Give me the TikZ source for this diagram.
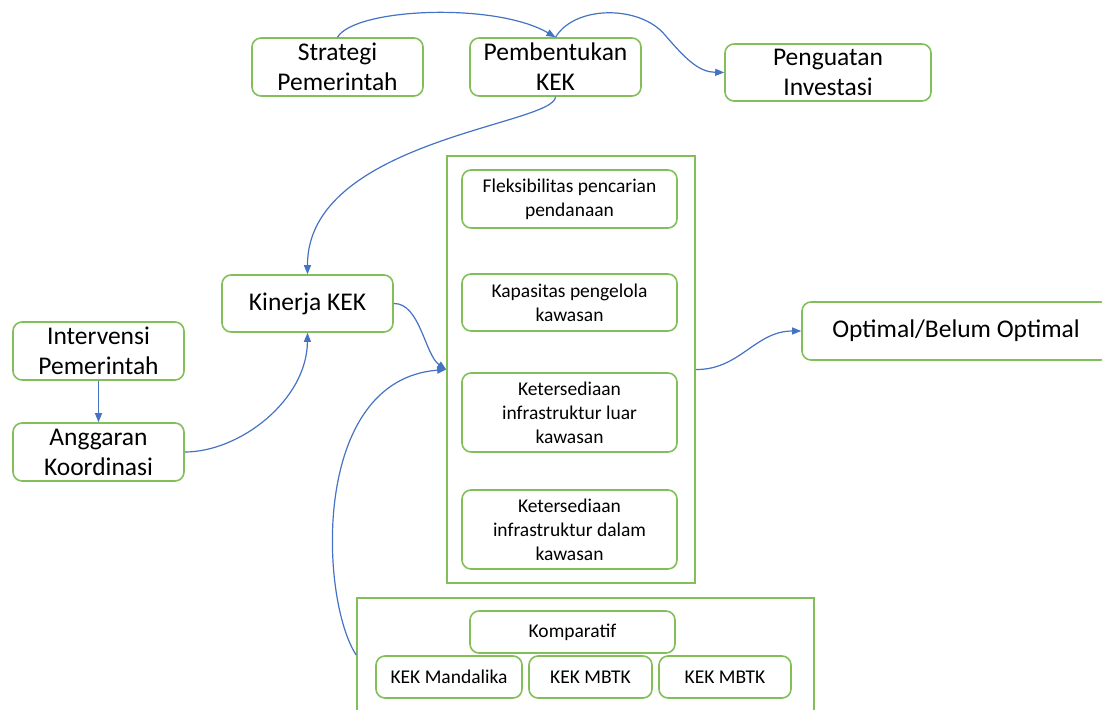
\documentclass[tikz,border=0pt]{standalone}
\usepackage{fontspec}
\setmainfont{Carlito}
\usetikzlibrary{arrows.meta}
\definecolor{bgreen}{RGB}{130,190,90}
\definecolor{ablue}{RGB}{68,114,196}
\tikzset{
  bigbox/.style={draw=bgreen, line width=1.6pt, rounded corners=9pt, align=center, inner sep=0pt, font=\fontsize{25.5}{30}\selectfont},
  smallbox/.style={draw=bgreen, line width=1.6pt, rounded corners=9pt, align=center, inner sep=0pt, font=\fontsize{19.5}{24}\selectfont},
  framebox/.style={draw=bgreen, line width=1.6pt, inner sep=0pt},
  conn/.style={draw=ablue, line width=1.2pt, -{Triangle[length=9pt,width=7pt]}},
}
\begin{document}
\begin{tikzpicture}[x=1pt,y=-1pt]
\useasboundingbox (0,0) rectangle (1102,709);
\clip (0,0) rectangle (1102,709);
% containers
\node[framebox, minimum width=248pt, minimum height=427pt] (cont) at (571,369.5) {};
\node[framebox, minimum width=457pt, minimum height=114pt] (bot) at (585.5,655) {};
% top nodes
\node[bigbox, minimum width=171pt, minimum height=58pt] (strat) at (337.5,67) {Strategi\\Pemerintah};
\node[bigbox, minimum width=171pt, minimum height=58pt] (pem) at (555.5,67) {Pembentukan\\KEK};
\node[bigbox, minimum width=206pt, minimum height=57pt] (peng) at (828,72.5) {Penguatan\\Investasi};
\node[bigbox, minimum width=171pt, minimum height=57pt] (kin) at (307.5,303.5) {Kinerja KEK};
\node[bigbox, minimum width=171pt, minimum height=58pt] (interv) at (98.5,351) {Intervensi\\Pemerintah};
\node[bigbox, minimum width=171pt, minimum height=58pt] (angg) at (98.5,452) {Anggaran\\Koordinasi};
\node[bigbox, minimum width=308pt, minimum height=58pt] (opt) at (956,331) {Optimal/Belum Optimal};
% inner boxes
\node[smallbox, minimum width=215pt, minimum height=58pt] (flek) at (569.5,199) {Fleksibilitas pencarian\\pendanaan};
\node[smallbox, minimum width=215pt, minimum height=57pt] (kap) at (569.5,302.5) {Kapasitas pengelola\\kawasan};
\node[smallbox, minimum width=215pt, minimum height=79pt] (luar) at (569.5,412.5) {Ketersediaan\\infrastruktur luar\\kawasan};
\node[smallbox, minimum width=215pt, minimum height=79pt] (dalam) at (569.5,529.5) {Ketersediaan\\infrastruktur dalam\\kawasan};
% bottom boxes
\node[smallbox, minimum width=205pt, minimum height=42pt] (komp) at (572.5,632) {Komparatif};
\node[smallbox, minimum width=146pt, minimum height=42pt] (mand) at (449,677) {KEK Mandalika};
\node[smallbox, minimum width=123pt, minimum height=42pt] (mbtka) at (590.5,677) {KEK MBTK};
\node[smallbox, minimum width=132pt, minimum height=42pt] (mbtkb) at (725,677) {KEK MBTK};
% connectors
\draw[conn] (strat.north) .. controls (355,8) and (495,2) .. (pem.north);
\draw[conn] (pem.north) .. controls (575,5) and (640,5) .. (665,35) .. controls (688,62) and (700,72) .. (peng.west);
\draw[conn] (pem.south) .. controls (555,125) and (307,140) .. (kin.north);
\draw[conn] (interv.south) -- (angg.north);
\draw[conn] (angg.east) .. controls (240,452) and (307,400) .. (kin.south);
\draw[conn] (kin.east) .. controls (420,303) and (425,355) .. (cont.west);
\draw[conn] (bot.west) .. controls (320,600) and (310,380) .. (cont.west);
\draw[conn] (cont.east) .. controls (740,370) and (755,331) .. (opt.west);
\end{tikzpicture}
\end{document}
